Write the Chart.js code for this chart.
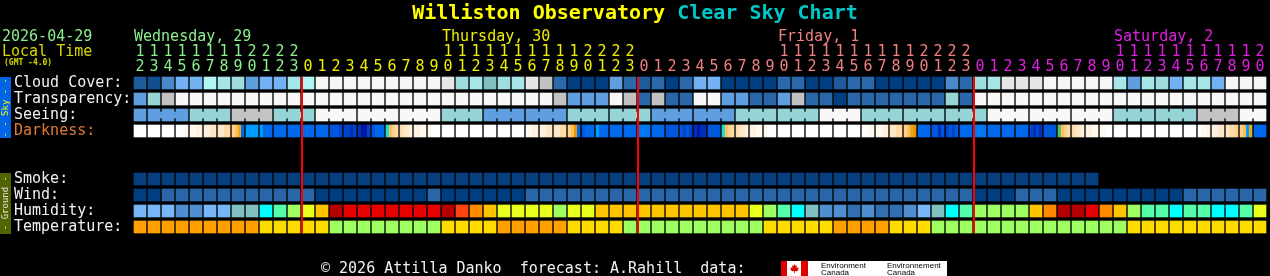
<!DOCTYPE html>
<html><head><meta charset="utf-8">
<script src="https://cdn.jsdelivr.net/npm/chart.js"></script>
<style>
html,body{margin:0;padding:0;background:#000;}
#wrap{position:relative;width:1270px;height:276px;overflow:hidden;background:#000;}
.t{position:absolute;white-space:pre;font-family:'DejaVu Sans Mono',monospace;font-size:15px;line-height:15px;}
canvas{position:absolute;left:0;top:0;}
.vbar{position:absolute;left:0;width:11px;display:flex;align-items:center;justify-content:center;overflow:hidden;}
.vbar span{writing-mode:vertical-rl;transform:rotate(180deg);font-family:'DejaVu Sans Mono',monospace;font-size:9px;line-height:11px;white-space:pre;}
</style></head>
<body><div id="wrap">
<canvas id="c" width="1270" height="276"></canvas>
<div class="t" style="left:0;top:2px;width:1270px;text-align:center;font-weight:bold;font-size:20px;line-height:20px;"><span style="color:#ffff00">Williston Observatory</span> <span style="color:#00c8c8">Clear Sky Chart</span></div>
<div class="t" style="left:2px;top:29px;color:#8cf08c">2026-04-29</div>
<div class="t" style="left:2px;top:44px;color:#d8d800">Local Time</div>
<div class="t" style="left:4px;top:59px;color:#d8d800;font-size:8px;line-height:8px;font-weight:bold">(GMT -4.0)</div>
<div class="vbar" style="top:77px;height:61px;background:#0064e8;"><span style="color:#ffff00">- - Sky - -</span></div>
<div class="vbar" style="top:173px;height:61px;background:#506400;"><span style="color:#e8e8e8">- Ground -</span></div>
<div class="t" style="left:321px;top:261px;color:#f2f2f2">© 2026 Attilla Danko  forecast: A.Rahill  data:</div>
<div style="position:absolute;left:781px;top:261px;width:166px;height:15px;background:#fff;overflow:hidden;">
  <div style="position:absolute;left:0;top:0;width:6px;height:15px;background:#e00000"></div>
  <div style="position:absolute;left:20px;top:0;width:7px;height:15px;background:#e00000"></div>
  <div style="position:absolute;left:9px;top:3px;width:9px;height:9px;background:#e00000;clip-path:polygon(50% 0%,62% 22%,78% 15%,72% 45%,95% 35%,88% 60%,100% 65%,75% 80%,55% 78%,55% 100%,45% 100%,45% 78%,25% 80%,0% 65%,12% 60%,5% 35%,28% 45%,22% 15%,38% 22%);"></div>
  <div style="position:absolute;left:40px;top:1px;font-family:'Liberation Sans',sans-serif;font-size:8px;line-height:7px;color:#000;white-space:pre">Environment
Canada</div>
  <div style="position:absolute;left:106px;top:1px;font-family:'Liberation Sans',sans-serif;font-size:8px;line-height:7px;color:#000;white-space:pre">Environnement
Canada</div>
</div>
</div>
<script>
// ---------- data ----------
const hours = [12,13,14,15,16,17,18,19,20,21,22,23,
  0,1,2,3,4,5,6,7,8,9,10,11,12,13,14,15,16,17,18,19,20,21,22,23,
  0,1,2,3,4,5,6,7,8,9,10,11,12,13,14,15,16,17,18,19,20,21,22,23,
  0,1,2,3,4,5,6,7,8,9,10,11,12,13,14,15,16,17,18,19,20];
const dayNames = ['Wednesday, 29','Thursday, 30','Friday, 1','Saturday, 2'];
const dayStartCols = [0,12,36,60];
const dayLabelCols = [0,22,46,70];
const dayColors = ['#8cf08c','#eeee00','#f08080','#e020e0'];
const rowLabels = ['Cloud Cover:','Transparency:','Seeing:','Darkness:','','','Smoke:','Wind:','Humidity:','Temperature:'];

// cloud cover level index (0 clear ... 13 overcast)
const cloud = [2,1,4,6,6,7,8,9,5,6,6,8,7,
  13,13,13,13,13,13,13,13,13,
  12,9,8,10,9,8,12,11,3,0,0,0,5,3,
  2,3,0,3,6,6,0,0,0,0,3,3,0,0,2,3,3,0,0,0,0,0,4,3,
  9,8,12,12,12,13,13,13,13,13,8,5,8,9,6,8,8,6,13,13,13];
// transparency (0 transparent ... 5 too cloudy)
const transparency = [2,3,4,
  5,5,5,5,5,5,5,5,5,5,5,5,5,5,5,5,5,5,5,5,5,5,5,5,5,5,5,
  4,2,2,2,5,4,1,4,1,1,5,5,2,2,1,1,2,4,1,1,0,1,1,1,1,1,1,1,3,1,
  5,5,5,5,5,5,5,5,5,5,5,5,5,5,5,5,5,5,5,5,5];
// seeing (0 excellent ... 5 too cloudy), given per hour, 3-hour blocks
const seeing = [2, 2,2,2, 3,3,3, 4,4,4, 3,3,3, 5,5,5, 5,5,5, 5,5,5,
  3,3,3, 2,2,2, 2,2,2, 3,3,3, 3,3,3, 2,2,2, 2,2,2, 3,3,3, 3,3,3, 5,5,5,
  3,3,3, 3,3,3, 3,3,3, 5,5,5, 5,5,5, 5,5,5, 3,3,3, 3,3,3, 4,4,4, 5,5];
// darkness, four quarter-hour codes per hour
const darkness = ['WWWW','WWWW','WWWW','WWWa','aabb','bbcc','ccdd','efgB','SSSS','SBBB','BBBB','BBBB',
  'BBBB','BBBB','CCCD','DDED','EFFD','CBBB','Tfed','dccb','bbaa','aWWW','WWWW','WWWW',
  'WWWW','WWWW','WWWW','WWWW','aabb','bbcc','ccdd','efhB','CBBB','SBBB','BBBB','BBBB',
  'RRRR','BBBB','CCCC','CDCD','EFEE','CCCC','Tfed','dccb','bbaa','aWWW','WWWW','WWWW',
  'WWWW','WWWW','WWWW','WWWW','WWaa','aabb','ccdd','efgh','BBBB','CCEC','DCDC','BBBB',
  'RRRR','BBBB','BBBB','BBBB','DEDE','CCCC','Gfed','dccb','bbaa','aaWW','WWWW','WWWW',
  'WWWW','WWWW','WWWW','WWWW','Waab','bbcc','cdde','efSg','BBBB'];
const smoke = [0,0,0,0,0,0,0,0,0,0,0,0,0,0,0,0,0,0,0,0,0,0,0,0,0,0,0,0,0,0,0,0,0,0,0,
  0,0,0,0,0,0,0,0,0,0,0,0,0,0,0,0,0,0,0,0,0,0,0,0,0,0,0,0,0,0,0,0,0,0];
const wind = [0,0,1,1,1,1,1,1,1,1,1,1,1,0,0,0,0,0,0,0,0,1,
  0,0,0,0,0,0,1,1,1,1,1,1,1,1,1,1,1,1,1,1,1,1,1,1,1,1,1,1,1,1,1,1,1,1,1,1,1,1,
  0,0,0,1,1,1,0,0,0,0,0,0,0,0,0,1,1,1,1,1,1];
const humidity = [2,2,2,1,1,2,2,3,3,4,5,6,7,8,12,
  11,11,11,11,11,11,11,
  12,10,9,8,7,7,7,7,6,7,7,
  8,8,8,8,8,8,8,8,8,8,8,
  7,6,5,4,3,1,1,0,1,0,0,1,2,3,4,5,
  6,6,6,6,8,9,12,12,11,9,8,6,5,5,4,5,5,4,4,5,7];
const temperature = [2,2,2,2,2,2,2,2,2,1,1,1,1,1,0,0,0,0,0,0,0,0,
  1,1,1,1,2,2,2,2,2,1,1,1,1,0,0,0,0,0,0,0,0,0,0,1,1,1,1,1,2,2,2,2,
  1,1,1,0,0,0,0,0,0,0,0,0,0,0,0,0,0,1,1,1,1,1,1,1,1,1,1];

// ---------- palettes (style) ----------
const cloudColors = ['#003f7f','#134f8f','#1f5a9a','#2a6aab','#4a88cc','#5f9fdf','#72b2f2',
  '#b0f4f4','#a6e6e6','#9edede','#80c0c0','#c2c2c2','#e6e6e6','#f6f6f6'];
const transColors = ['#003f7f','#2a66a8','#5f9fdf','#99d4d4','#c2c2c2','#f8f8f8'];
const seeingColors = ['#003f7f','#2a66a8','#5f9fdf','#95d5d5','#c4c4c4','#f8f8f8'];
const darkColors = {W:'#ffffff',a:'#fff9f0',b:'#fff1de',c:'#ffe6c6',d:'#ffdba8',e:'#ffd08a',f:'#ffbf5c',
  g:'#e8aa22',h:'#f09400',T:'#18e0d0',G:'#58c068',S:'#009cff',R:'#0078f2',B:'#0068ea',C:'#0056dc',
  D:'#0044cc',E:'#0030b8',F:'#0016a4'};
const smokeColors = ['#053f7d'];
const windColors = ['#003f7f','#2a66a8'];
const humidityColors = ['#3070b0','#4f8fcf','#77b7f7','#80c0c0','#00ffff','#55ffaa','#a0ff60',
  '#eaff1e','#ffc400','#ff8a00','#ff4410','#e60000','#b40000'];
const tempColors = ['#a0ff60','#ffdc00','#ffa000'];

// ---------- chart ----------
const HALF = 0.375;     // half cell height in row units
const CONN = 0.1875;    // half connector height
function rowSet(values, row, palette){
  return {
    xAxisID:'x', yAxisID:'y', grouped:false, barThickness:12, borderWidth:0,
    data: values.map(v => (v === null || v === undefined) ? null : [row-HALF, row+HALF]),
    backgroundColor: values.map(v => (v === null || v === undefined) ? 'rgba(0,0,0,0)' : palette[v])
  };
}
function dayOfCol(i){ let k = 0; dayStartCols.forEach((s,j)=>{ if (i >= s) k = j; }); return k; }
const seeingBlock = i => Math.floor((i + 2) / 3);
const connData = [], connColors = [];
for (let i = 0; i < seeing.length - 1; i++) {
  if (seeingBlock(i) === seeingBlock(i+1)) {
    connData.push({x: i + 0.5, y: [2 - CONN, 2 + CONN]});
    connColors.push(seeingColors[seeing[i]]);
  }
}
const darkSet = {
  xAxisID:'x', yAxisID:'y', grouped:false, barThickness:12, borderWidth:0,
  data: darkness.map(() => [3-HALF, 3+HALF]),
  backgroundColor: (c) => {
    const s = darkness[c.dataIndex];
    if (!s) return '#000';
    if (s.split('').every(ch => ch === s[0])) return darkColors[s[0]];
    const sc = c.chart.scales && c.chart.scales.x;
    const xc = sc ? sc.getPixelForValue(c.dataIndex) : NaN;
    if (!isFinite(xc)) return darkColors[s[0]];
    const g = c.chart.ctx.createLinearGradient(xc - 6, 0, xc + 6, 0);
    for (let k = 0; k < 4; k++) {
      g.addColorStop(k/4, darkColors[s[k]]);
      g.addColorStop((k+1)/4, darkColors[s[k]]);
    }
    return g;
  }
};
const connSet = {
  xAxisID:'xl', yAxisID:'y', grouped:false, barThickness:2, borderWidth:0,
  data: connData, backgroundColor: connColors
};
const dayLines = {
  id:'dayLines',
  afterDatasetsDraw(chart){
    const {ctx} = chart; const xl = chart.scales.xl, y = chart.scales.y;
    const top = y.getPixelForValue(-HALF), bot = y.getPixelForValue(rowLabels.length - 1 + HALF);
    ctx.save(); ctx.fillStyle = '#ff0000';
    dayStartCols.slice(1).forEach(col => {
      const x = Math.round(xl.getPixelForValue(col - 0.5));
      ctx.fillRect(x, top, 2, bot - top);
    });
    ctx.restore();
  }
};
const font = {family:"'DejaVu Sans Mono', monospace", size:15, lineHeight:'15px'};
const chart = new Chart(document.getElementById('c'), {
  type:'bar',
  data:{
    labels: hours,
    datasets:[
      rowSet(cloud, 0, cloudColors),
      rowSet(transparency, 1, transColors),
      rowSet(seeing, 2, seeingColors),
      connSet,
      darkSet,
      rowSet(smoke, 6, smokeColors),
      rowSet(wind, 7, windColors),
      rowSet(humidity, 8, humidityColors),
      rowSet(temperature, 9, tempColors)
    ]
  },
  options:{
    responsive:false, animation:false, devicePixelRatio:1,
    layout:{padding:{left:14, right:3, top:35, bottom:41}},
    plugins:{legend:{display:false}, tooltip:{enabled:false}},
    events:[],
    scales:{
      x:{
        type:'category', position:'top', offset:true,
        grid:{display:false, drawTicks:false}, border:{display:false},
        ticks:{
          autoSkip:false, maxRotation:0, minRotation:0, padding:0, font,
          color:(c) => dayColors[dayOfCol(c.index)],
          callback:(v, i) => { const h = String(hours[i]); return h.length > 1 ? [h[0], h[1]] : ['', h]; }
        },
        afterFit(s){ s.height = 40; s.paddingLeft = 0; s.paddingRight = 0; }
      },
      xl:{ type:'linear', display:false, min:-0.5, max:hours.length - 0.5, offset:false },
      y:{
        type:'linear', position:'left', reverse:true, min:-0.5, max:rowLabels.length - 0.5,
        grid:{display:false, drawTicks:false}, border:{display:false},
        afterBuildTicks(s){ s.ticks = rowLabels.map((_, i) => ({value:i})); },
        ticks:{
          autoSkip:false, crossAlign:'far', padding:0, font,
          color:(c) => c.index === 3 ? '#e07a36' : '#f2f2f2',
          callback:(v) => rowLabels[v] || ''
        },
        afterFit(s){ s.width = 119; s.paddingTop = 0; s.paddingBottom = 0; }
      }
    }
  },
  plugins:[dayLines]
});
const wrap = document.getElementById('wrap');
dayNames.forEach((name, k) => {
  const d = document.createElement('div');
  d.className = 't';
  d.style.left = (chart.scales.x.getPixelForValue(dayLabelCols[k]) - 6) + 'px';
  d.style.top = '29px';
  d.style.color = dayColors[k];
  d.textContent = name;
  wrap.appendChild(d);
});
</script>
</body></html>
